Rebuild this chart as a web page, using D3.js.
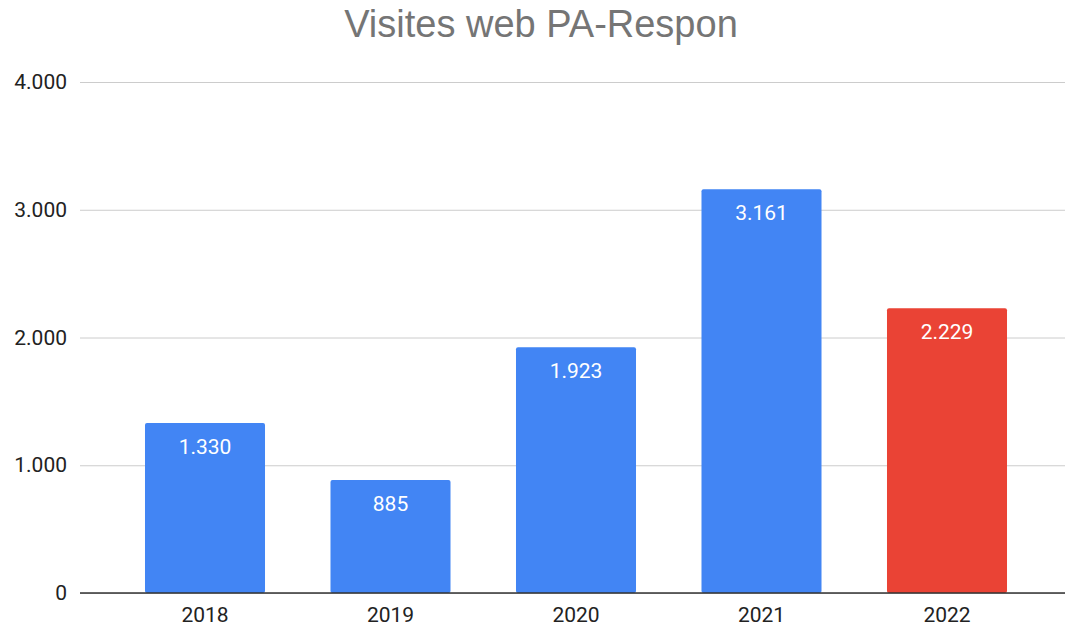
<!DOCTYPE html>
<html>
<head>
<meta charset="utf-8">
<script src="https://cdn.jsdelivr.net/npm/d3@7"></script>
<style>
  body { margin: 0; background: #fff; }
  svg { display: block; }
</style>
</head>
<body>
<div id="chart"></div>
<script>
'use strict';

var years = ['2018', '2019', '2020', '2021', '2022'],
    visits = [1330, 885, 1923, 3161, 2229],
    barColors = ['#4285f4', '#4285f4', '#4285f4', '#4285f4', '#ea4335'],
    yTicks = [0, 1000, 2000, 3000, 4000];

var width = 1065,
    height = 632,
    gridLeft = 80,
    gridRight = 1065,
    svg = d3.select('#chart').append('svg').attr('width', width).attr('height', height),
    fmt = d3.formatLocale({ decimal: ',', thousands: '.', grouping: [3], currency: ['', '€'] }).format(',d');

var x = d3.scaleBand().domain(years).range([112.25, 1039.75]).paddingInner(0.353).paddingOuter(0.1765),
    y = d3.scaleLinear().domain([0, 4000]).range([593, 82]);

// title
svg.append('text').attr('x', 541).attr('y', 37).attr('text-anchor', 'middle')
    .style('font-family', 'Liberation Sans, Arial, sans-serif').style('font-size', '38px').style('fill', '#757575')
    .text('Visites web PA-Respon');

// gridlines + y labels
var yAxis = d3.axisLeft(y).tickValues(yTicks).tickSize(-(gridRight - gridLeft)).tickPadding(13).tickFormat(fmt);
var gy = svg.append('g').attr('transform', 'translate(' + gridLeft + ',0)').call(yAxis);
gy.select('.domain').remove();
gy.selectAll('.tick line').attr('stroke', '#cccccc').attr('stroke-width', 1);
gy.selectAll('.tick text').style('font-family', 'Roboto, sans-serif').style('font-size', '21px').style('fill', '#222');

// bars
svg.selectAll('.bar').data(years).enter().append('rect').attr('class', 'bar')
    .attr('x', function (d) { return x(d); })
    .attr('y', function (d, i) { return y(visits[i]); })
    .attr('width', x.bandwidth())
    .attr('height', function (d, i) { return y(0) - y(visits[i]); })
    .attr('rx', 2).attr('ry', 2)
    .style('fill', function (d, i) { return barColors[i]; });

// value labels
svg.selectAll('.val').data(years).enter().append('text').attr('class', 'val')
    .attr('x', function (d) { return x(d) + x.bandwidth() / 2; })
    .attr('y', function (d, i) { return y(visits[i]) + 31; })
    .attr('text-anchor', 'middle')
    .style('font-family', 'Roboto, sans-serif').style('font-size', '21px').style('fill', '#fff')
    .text(function (d, i) { return fmt(visits[i]); });

// baseline
svg.append('line').attr('x1', gridLeft).attr('x2', gridRight).attr('y1', y(0)).attr('y2', y(0))
    .attr('stroke', '#333').attr('stroke-width', 1.5);

// x labels
var xAxis = d3.axisBottom(x).tickSize(0).tickPadding(14);
var gx = svg.append('g').attr('transform', 'translate(0,' + y(0) + ')').call(xAxis);
gx.select('.domain').remove();
gx.selectAll('.tick text').style('font-family', 'Roboto, sans-serif').style('font-size', '21px').style('fill', '#222');
</script>
</body>
</html>
